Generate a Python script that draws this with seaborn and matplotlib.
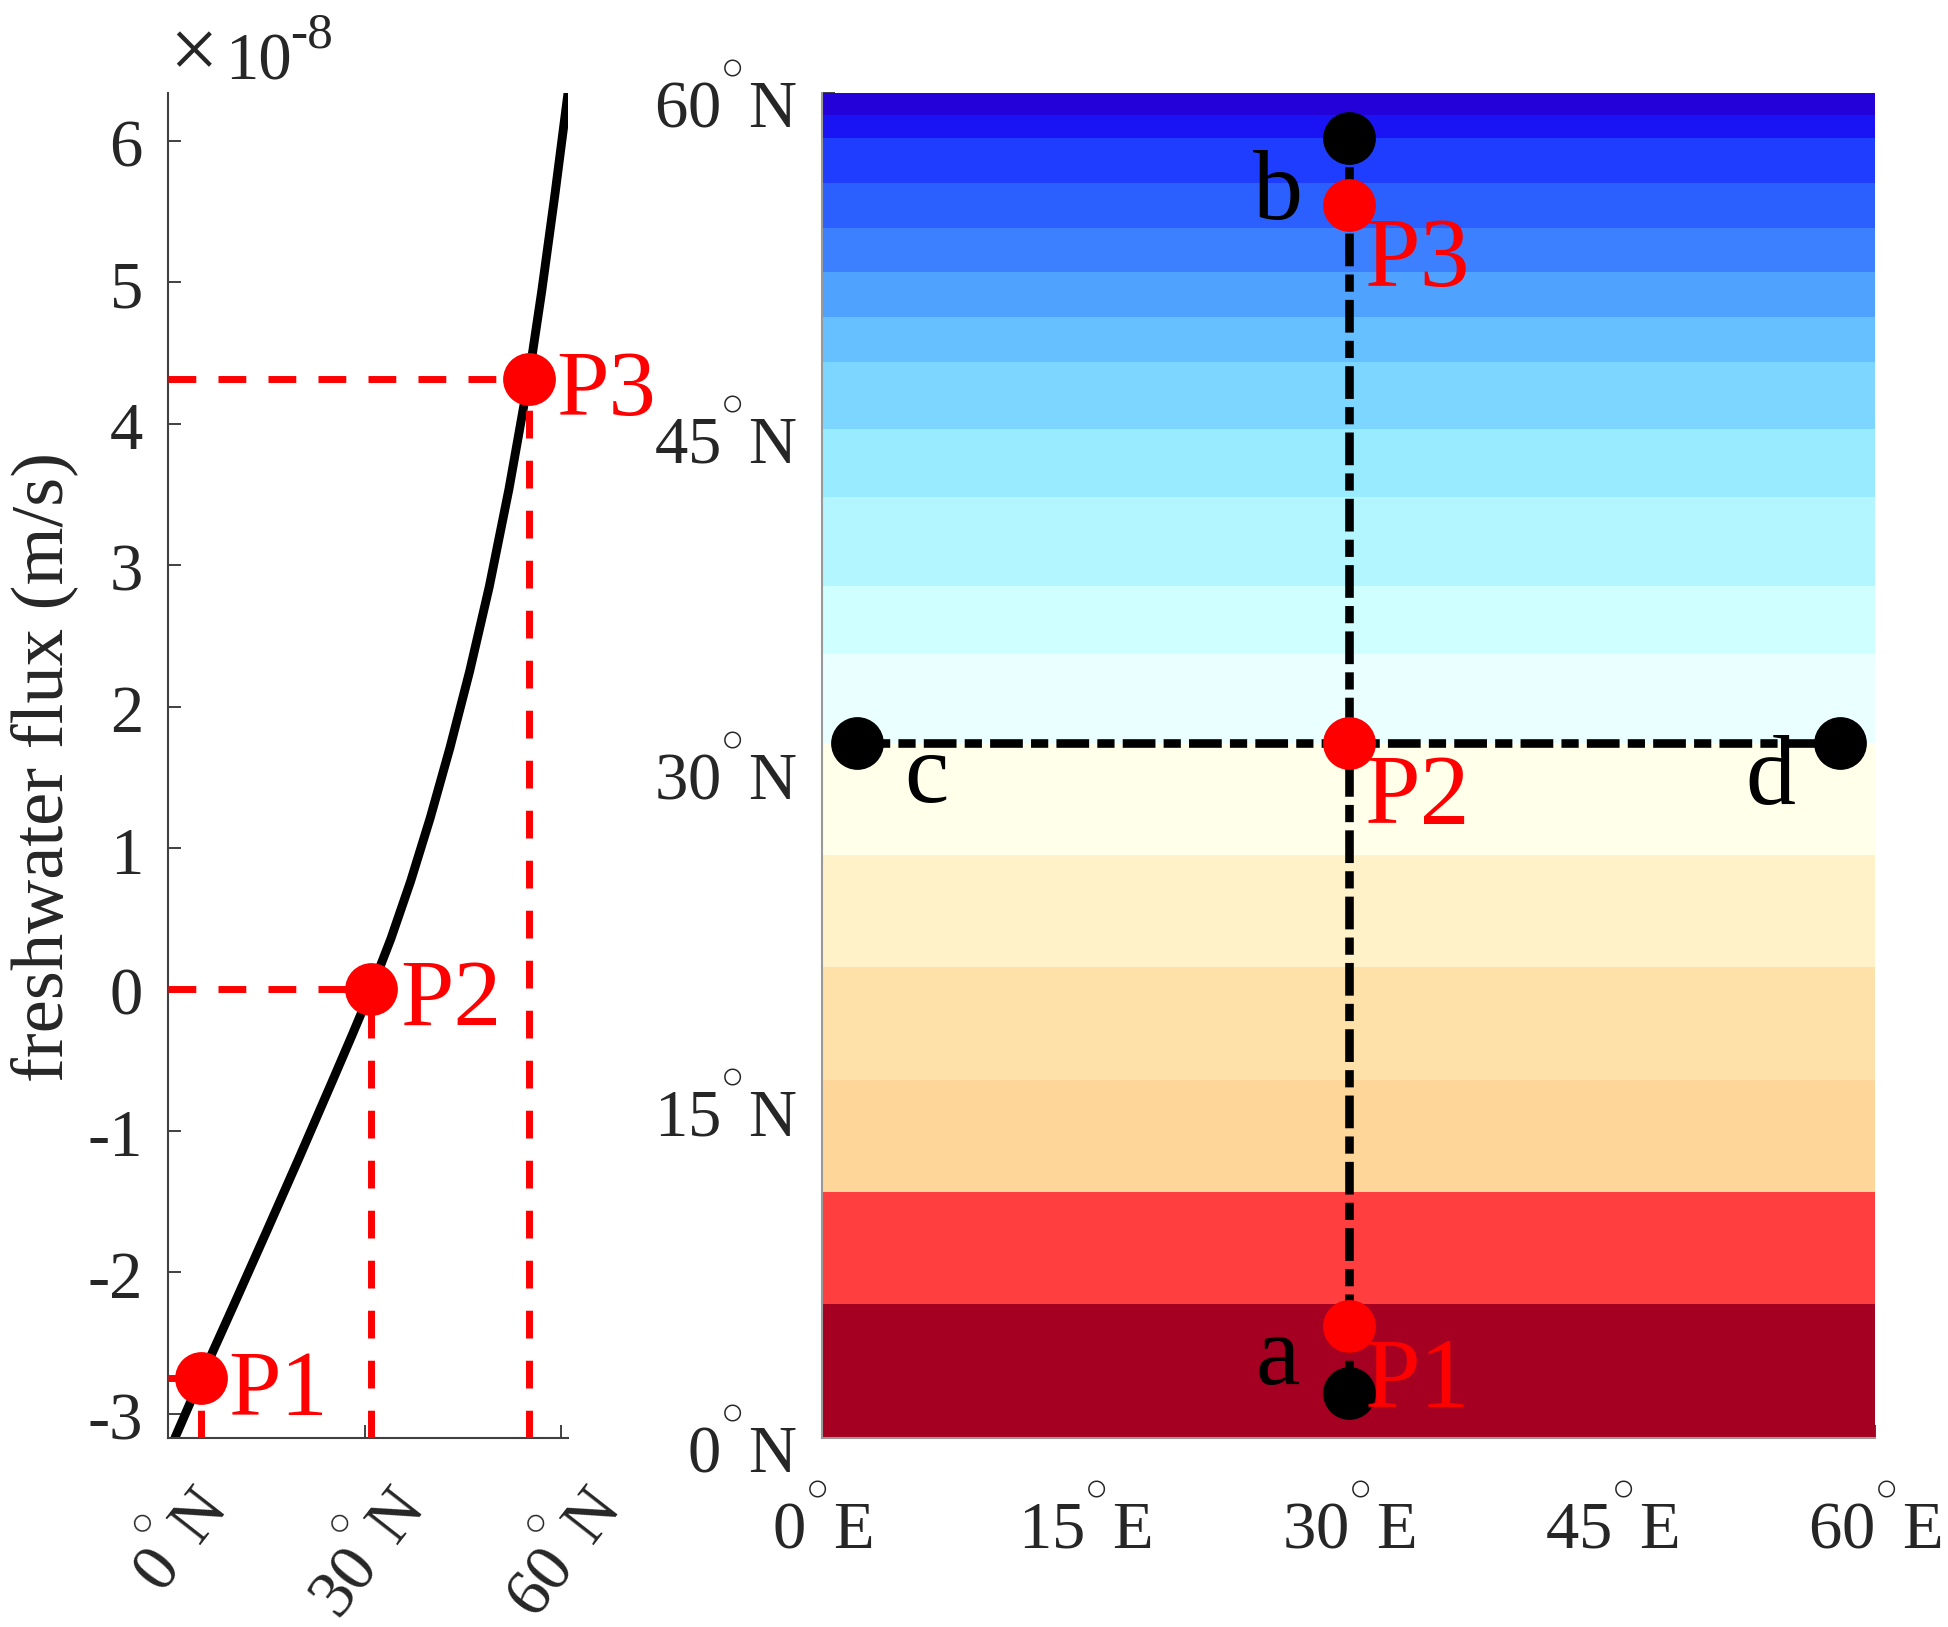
import numpy as np
import matplotlib
matplotlib.use('Agg')
import matplotlib.pyplot as plt
from matplotlib.colors import ListedColormap
from matplotlib.transforms import ScaledTranslation
import seaborn as sns

# Freshwater flux profile, flux in units of 1e-8 m/s
curve_lat = [1.07, 5, 10, 15, 20, 25, 28, 31, 34, 37, 40, 43, 46, 49, 52, 55, 57, 59, 61]
curve_flux = [-3.17, -2.75, -2.235, -1.715, -1.19, -0.655, -0.331, 0.0, 0.36, 0.765, 1.215, 1.71, 2.25, 2.85, 3.54, 4.32, 4.94, 5.62, 6.34]

# P1, P2, P3
point_names = ['P1', 'P2', 'P3']
point_lat = [5, 31, 55]
point_flux = [-2.75, 0.0, 4.32]
point_lon = [30, 30, 30]

# section ends a, b, c, d
end_lon = [30, 30, 2, 58]
end_lat = [2, 58, 31, 31]

# colour bands on the map, bottom to top
band_edges = [0, 6, 11, 16, 21, 26, 31, 35, 38, 42, 45, 48, 50, 52, 54, 56, 58, 59, 60]
band_colors = ['#A50021', '#FF3F3F', '#FFD699', '#FEE1A8', '#FFF2C9', '#FFFFEA',
               '#EAFFFF', '#CFFFFF', '#B3F6FF', '#99EBFF', '#7DD6FF', '#66BFFF',
               '#4FA3FF', '#3D80FF', '#2B60FF', '#1F3DFF', '#1A14F5', '#2400D9']
lon_edges = [0, 60]

deg = '$^{^{^{\\bigcirc}}}$'

left_yticks = [-3, -2, -1, 0, 1, 2, 3, 4, 5, 6]
left_ylabels = ['-3', '-2', '-1', '0', '1', '2', '3', '4', '5', '6']
left_xticks = [0, 30, 60]
left_xlabels = ['0' + deg + 'N', '30' + deg + 'N', '60' + deg + 'N']

map_xticks = [0, 15, 30, 45, 60]
map_xlabels = ['0' + deg + 'E', '15' + deg + 'E', '30' + deg + 'E', '45' + deg + 'E', '60' + deg + 'E']
map_yticks = [0, 15, 30, 45, 60]
map_ylabels = ['0' + deg + 'N', '15' + deg + 'N', '30' + deg + 'N', '45' + deg + 'N', '60' + deg + 'N']

sns.set_style('ticks')
plt.rcParams['font.family'] = ['Liberation Serif', 'DejaVu Serif']
plt.rcParams['mathtext.fontset'] = 'stix'

W, H = 1949, 1627
fig = plt.figure(figsize=(W / 100, H / 100), dpi=100)
ax1 = fig.add_axes([168 / W, 1 - 1437.7 / H, 400 / W, 1344.7 / H])
ax2 = fig.add_axes([822 / W, 1 - 1438.3 / H, 1053 / W, 1345.3 / H])

text_color = '#262626'
axis_color = '#404040'
label_size = 48
mark_size = 38 ** 2


def shift(label, dx_px, dy_px):
    # move a tick label by a pixel offset
    label.set_transform(label.get_transform() + ScaledTranslation(dx_px / 100, dy_px / 100, fig.dpi_scale_trans))


# left panel
ax1.set_xlim(0, 61)
ax1.set_ylim(-3.17, 6.34)
sns.lineplot(x=curve_lat, y=curve_flux, ax=ax1, color='black', lw=6.4, estimator=None, sort=False, zorder=2)

red_dash = (0, (4, 3.2))
for lat, flux in zip(point_lat, point_flux):
    ax1.plot([0, lat], [flux, flux], color='red', lw=5, linestyle=red_dash, zorder=3)
    ax1.plot([lat, lat], [-3.17, flux], color='red', lw=5, linestyle=red_dash, zorder=3)
sns.scatterplot(x=point_lat, y=point_flux, ax=ax1, color='red', s=mark_size, linewidth=0, zorder=4, clip_on=False)

ax1.text(9.2, -3.01, point_names[0], color='red', fontsize=68, va='baseline', zorder=5)
ax1.text(35.4, -0.26, point_names[1], color='red', fontsize=69, va='baseline', zorder=5)
ax1.text(59.2, 4.06, point_names[2], color='red', fontsize=68, va='baseline', zorder=5, clip_on=False)

ax1.set_yticks(left_yticks)
ax1.set_yticklabels(left_ylabels)
ax1.set_xticks(left_xticks)
ax1.set_xticklabels(left_xlabels, rotation=52, ha='right', va='top', rotation_mode='anchor')
ax1.tick_params(axis='both', direction='in', length=9.5, width=1.4, color=axis_color,
                labelcolor=text_color, labelsize=label_size)
ax1.tick_params(axis='y', pad=18)
ax1.tick_params(axis='x', pad=26)
for lab in ax1.get_xticklabels():
    shift(lab, 17, 0)
for lab in ax1.get_yticklabels():
    shift(lab, 0, -2)

ax1.set_ylabel('freshwater flux (m/s)', fontsize=53.7, color=text_color, va='center')
ax1.yaxis.set_label_coords(-0.31, 0.4988)
ax1.set_xlabel('')

ax1.text(194 / W, 1 - 78 / H, '\u00d7', transform=fig.transFigure, fontsize=62, color=text_color,
         ha='center', va='baseline')
ax1.text(225 / W, 1 - 79 / H, '10', transform=fig.transFigure, fontsize=label_size, color=text_color,
         ha='left', va='baseline')
ax1.text(290 / W, 1 - 47 / H, '-8', transform=fig.transFigure, fontsize=37, color=text_color,
         ha='left', va='baseline')

# right panel
band_index = np.arange(len(band_colors)).reshape(-1, 1)
ax2.set_axisbelow(True)
ax2.pcolormesh(lon_edges, band_edges, band_index, cmap=ListedColormap(band_colors), shading='flat', zorder=1)
ax2.set_xlim(0, 60)
ax2.set_ylim(0, 60)

black_dash = (0, (3.8, 0.95, 2.0, 0.95))
ax2.plot([end_lon[0], end_lon[1]], [end_lat[0], end_lat[1]], color='black', lw=6.2, linestyle=black_dash, zorder=2)
ax2.plot([end_lon[2], end_lon[3]], [end_lat[2], end_lat[3]], color='black', lw=6.2, linestyle=black_dash, zorder=2)
sns.scatterplot(x=end_lon, y=end_lat, ax=ax2, color='black', s=mark_size, linewidth=0, zorder=3)
sns.scatterplot(x=point_lon, y=point_lat, ax=ax2, color='red', s=mark_size, linewidth=0, zorder=4)

ax2.text(30.9, 1.4, point_names[0], color='red', fontsize=72, va='baseline', zorder=5)
ax2.text(30.9, 27.45, point_names[1], color='red', fontsize=72, va='baseline', zorder=5)
ax2.text(30.9, 51.4, point_names[2], color='red', fontsize=72, va='baseline', zorder=5)
ax2.text(24.7, 2.4, 'a', color='black', fontsize=72, va='baseline', zorder=5)
ax2.text(24.56, 54.4, 'b', color='black', fontsize=72, va='baseline', zorder=5)
ax2.text(4.7, 28.4, 'c', color='black', fontsize=72, va='baseline', zorder=5)
ax2.text(52.6, 28.3, 'd', color='black', fontsize=72, va='baseline', zorder=5)

ax2.set_xticks(map_xticks)
ax2.set_xticklabels(map_xlabels, va='baseline')
ax2.set_yticks(map_yticks)
ax2.set_yticklabels(map_ylabels, va='baseline')
ax2.tick_params(axis='both', direction='in', length=9.5, width=1.4, color=axis_color,
                labelcolor=text_color, labelsize=label_size)
ax2.tick_params(axis='y', pad=18)
ax2.tick_params(axis='x', pad=79)
for lab in ax2.get_yticklabels():
    shift(lab, 0, -34)

for ax in (ax1, ax2):
    sns.despine(ax=ax)
    for side in ('left', 'bottom'):
        ax.spines[side].set_color(axis_color)
        ax.spines[side].set_linewidth(1.5)
ax2.spines['left'].set_color('#999999')
ax2.spines['bottom'].set_color('#999999')

fig.savefig('out.png', dpi=100, facecolor='white')
